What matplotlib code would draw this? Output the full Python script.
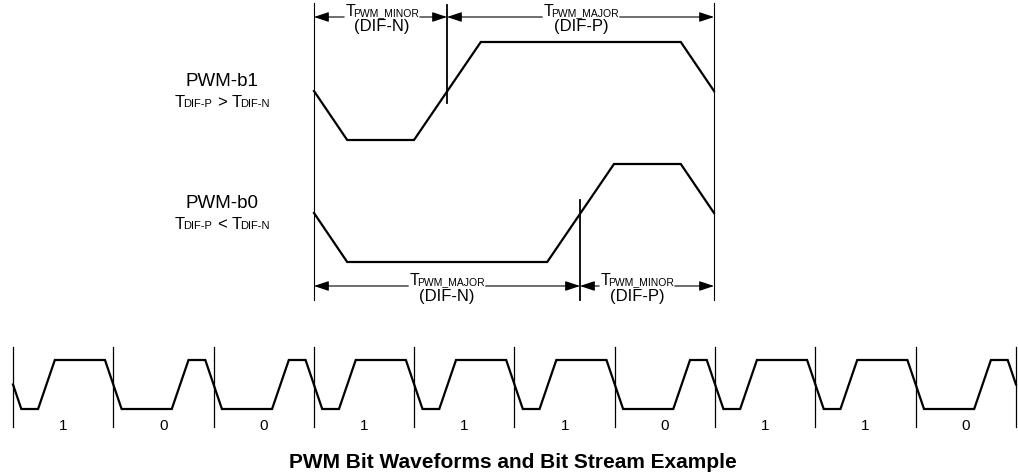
import matplotlib
matplotlib.use('Agg')
from matplotlib import pyplot as plt

plt.rcParams['font.family'] = ['Liberation Sans', 'DejaVu Sans']

# bit stream along the bottom
BITS = [1, 0, 0, 1, 1, 1, 0, 1, 1, 0]

# corners of one bit cell: (fraction of the bit period, level) with
# level 0 = crossing, -1 = low, +1 = high
SHAPES = {
    1: [(0.0, 0), (0.083, -1), (0.25, -1), (0.417, 1), (0.917, 1), (1.0, 0)],
    0: [(0.0, 0), (0.083, -1), (0.583, -1), (0.75, 1), (0.917, 1), (1.0, 0)],
}

ROW_NAMES = ['PWM-b1', 'PWM-b0']
ROW_RELATION = ['>', '<']

W, H = 1018, 475


def wave(ax, bits, x0, period, mid, amp, lw=1.6):
    xs, ys = [], []
    for k, b in enumerate(bits):
        for f, lvl in SHAPES[b]:
            xs.append(x0 + (k + f) * period)
            ys.append(mid - lvl * amp)
    ax.plot(xs, ys, color='k', lw=lw, solid_joinstyle='miter')


def rich(ax, cx, y, parts):
    # parts: (text, size, space before) laid out on one baseline, centred on cx
    r = ax.figure.canvas.get_renderer()
    texts, widths = [], []
    for s, size, pad in parts:
        t = ax.text(0, y, s, fontsize=size, ha='left', va='baseline')
        texts.append(t)
        widths.append(t.get_window_extent(r).width + pad)
    total = sum(widths)
    x = cx - total / 2
    for t, w, (_, _, pad) in zip(texts, widths, parts):
        t.set_x(x + pad)
        x += w
    return cx - total / 2, cx + total / 2


def arrow(ax, xa, xb, y):
    ax.annotate('', xy=(xb, y), xytext=(xa, y),
                arrowprops=dict(arrowstyle='-|>,head_length=0.75,head_width=0.25',
                                color='k', lw=0.8, shrinkA=0, shrinkB=0,
                                mutation_scale=12))


def dim(ax, xa, xb, cx, y, name, dif):
    left, right = rich(ax, cx, y - 1, [('T', 11.5, 0), (name, 7.5, -2)])
    arrow(ax, left - 1, xa, y)
    arrow(ax, right + 1, xb, y)
    ax.text(cx, y + 10, '(' + dif + ')', fontsize=12, ha='center', va='center')


def main():
    fig = plt.figure(figsize=(W / 100, H / 100), dpi=100)
    ax = fig.add_axes([0, 0, 1, 1])
    ax.set_xlim(0, W)
    ax.set_ylim(H, 0)
    ax.axis('off')

    # upper diagram: one bit of each kind
    x0, x1, period = 314, 714, 400
    wave(ax, [1], x0, period, 91, 49)
    wave(ax, [0], x0, period, 213, 49)

    for x in (x0, x1):
        ax.plot([x, x], [3, 300], color='k', lw=0.8)
    ax.plot([447, 447], [5, 103], color='k', lw=1.3)
    ax.plot([580, 580], [200, 300], color='k', lw=1.3)

    dim(ax, x0, 447, 382, 17, 'PWM_MINOR', 'DIF-N')
    dim(ax, 447, x1, 581, 17, 'PWM_MAJOR', 'DIF-P')
    dim(ax, x0, 580, 447, 286, 'PWM_MAJOR', 'DIF-N')
    dim(ax, 580, x1, 637, 286, 'PWM_MINOR', 'DIF-P')

    for name, rel, yc in zip(ROW_NAMES, ROW_RELATION, (81, 203)):
        ax.text(222, yc, name, fontsize=13.5, ha='center', va='center')
        rich(ax, 222, yc + 26, [('T', 12, 0), ('DIF-P', 8, -2), (rel, 12, 5),
                                ('T', 12, 5), ('DIF-N', 8, -2)])

    # bit stream
    bx0, bp = 13, 100.3
    wave(ax, BITS, bx0, bp, 384.5, 24.5)
    for k in range(len(BITS) + 1):
        x = bx0 + k * bp
        ax.plot([x, x], [347, 427], color='k', lw=0.9)
    for k, b in enumerate(BITS):
        ax.text(bx0 + (k + 0.5) * bp, 426, str(b), fontsize=11,
                ha='center', va='center')

    ax.text(513, 463, 'PWM Bit Waveforms and Bit Stream Example',
            fontsize=15, fontweight='bold', ha='center', va='center')

    fig.savefig('out.png', dpi=100, facecolor='white')


if __name__ == '__main__':
    main()
